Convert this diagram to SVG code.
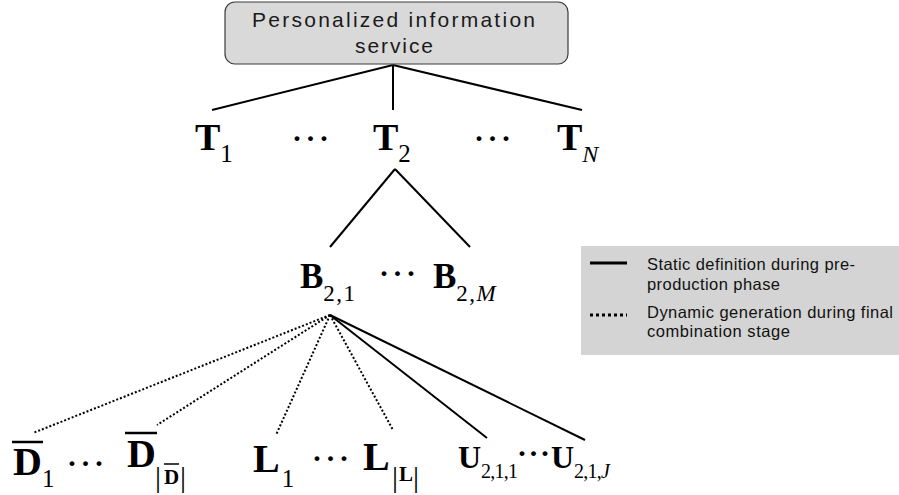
<svg xmlns="http://www.w3.org/2000/svg" width="899" height="495" viewBox="0 0 899 495">
<style>
.box{fill:#d9d9d9;stroke:#3a3a3a;stroke-width:1.2}
.lbl{font-family:"Liberation Sans",Arial,sans-serif;font-size:21px;fill:#1a1a1a}
.leg{font-family:"Liberation Sans",Arial,sans-serif;font-size:16.5px;fill:#111}
.m{font-family:"Liberation Serif","Times New Roman",serif;font-weight:bold;fill:#000}
.s{font-family:"Liberation Serif","Times New Roman",serif;font-weight:normal}
.it{font-style:italic}
.el{font-family:"Liberation Serif","Times New Roman",serif;font-size:30px;font-weight:bold;fill:#000}
.ls{letter-spacing:3.5px}
.solid{stroke:#000;stroke-width:2;fill:none}
.dot{stroke:#000;stroke-width:2;stroke-dasharray:2 2;fill:none}
.ov{stroke:#000;stroke-width:2.5}
</style>
<rect width="899" height="495" fill="#fff"/>
<g id="connectors">
<line class="solid" x1="393" y1="65" x2="212" y2="110"/>
<line class="solid" x1="393" y1="65" x2="393" y2="110"/>
<line class="solid" x1="393" y1="65" x2="582" y2="110"/>
<line class="solid" x1="395" y1="169" x2="330" y2="247"/>
<line class="solid" x1="395" y1="169" x2="470" y2="247"/>
<line class="dot" x1="330" y1="315" x2="33" y2="433"/>
<line class="dot" x1="330" y1="315" x2="157" y2="425"/>
<line class="dot" x1="330" y1="315" x2="276" y2="435"/>
<line class="dot" x1="330" y1="315" x2="393" y2="430"/>
<line class="solid" x1="330" y1="315" x2="487" y2="438"/>
<line class="solid" x1="330" y1="315" x2="585" y2="440"/>
</g>
<g id="root">
<rect class="box" x="225" y="2" width="343" height="62" rx="10"/>
<text class="lbl" x="393.5" y="27" text-anchor="middle" textLength="283">Personalized information</text>
<text class="lbl" x="394" y="53" text-anchor="middle" textLength="78">service</text>
</g>
<g id="T1"><text class="m" x="195" y="150" font-size="38">T<tspan class="s" font-size="25" dy="12">1</tspan></text></g>
<g id="T-dots1"><text class="el" x="292" y="148"><tspan class="ls">··</tspan>·</text></g>
<g id="T2"><text class="m" x="373" y="150" font-size="38">T<tspan class="s" font-size="25" dy="12">2</tspan></text></g>
<g id="T-dots2"><text class="el" x="474" y="148"><tspan class="ls">··</tspan>·</text></g>
<g id="TN"><text class="m" x="557" y="150" font-size="38">T<tspan class="s it" font-size="24" dy="12">N</tspan></text></g>
<g id="B21"><text class="m" x="300" y="288" font-size="35">B<tspan class="s" font-size="23" dy="13" letter-spacing="1.5">2,1</tspan></text></g>
<g id="B-dots"><text class="el" x="379" y="283"><tspan class="ls">··</tspan>·</text></g>
<g id="B2M"><text class="m" x="433" y="288" font-size="35">B<tspan class="s" font-size="23" dy="13" letter-spacing="1.5">2,</tspan><tspan class="s it" font-size="23">M</tspan></text></g>
<g id="D1">
<line class="ov" x1="12" y1="442" x2="43" y2="442"/>
<text class="m" x="13" y="475" font-size="40">D<tspan class="s" font-size="25" dy="12">1</tspan></text>
</g>
<g id="D-dots"><text class="el" x="67" y="473"><tspan class="ls">··</tspan>·</text></g>
<g id="DD">
<line class="ov" x1="125" y1="433" x2="157" y2="433"/>
<text class="m" x="127" y="467" font-size="40">D</text>
<text class="s" x="155" y="487" font-size="30">|</text>
<line stroke="#000" stroke-width="1.5" x1="164" y1="464" x2="179" y2="464"/>
<text class="m" x="164" y="484" font-size="21">D</text>
<text class="s" x="180" y="487" font-size="30">|</text>
</g>
<g id="L1"><text class="m" x="253" y="472" font-size="40">L<tspan class="s" font-size="25" dx="2" dy="15">1</tspan></text></g>
<g id="L-dots"><text class="el" x="312" y="468"><tspan class="ls">··</tspan>·</text></g>
<g id="LL">
<text class="m" x="363" y="470" font-size="40">L</text>
<text class="s" x="392" y="487" font-size="30">|</text>
<text class="m" x="399" y="481" font-size="21">L</text>
<text class="s" x="413" y="487" font-size="30">|</text>
</g>
<g id="U211"><text class="m" x="458" y="468" font-size="32">U<tspan class="s" font-size="20" dy="10" letter-spacing="-0.8">2,1,1</tspan></text></g>
<g id="U-dots"><text class="el" x="517" y="463" font-size="26"><tspan letter-spacing="1.5">··</tspan>·</text></g>
<g id="U21J"><text class="m" x="551" y="468" font-size="32">U<tspan class="s" font-size="20" dy="10" letter-spacing="-0.8">2,1,</tspan><tspan class="s it" font-size="20">J</tspan></text></g>
<g id="legend">
<rect x="581" y="246" width="318" height="109" fill="#d4d4d4"/>
<line x1="590" y1="263" x2="627" y2="263" stroke="#000" stroke-width="3"/>
<line x1="590" y1="315" x2="627" y2="315" stroke="#000" stroke-width="3" stroke-dasharray="3 3"/>
<text class="leg" x="647" y="270" textLength="208">Static definition during pre-</text>
<text class="leg" x="647" y="290" textLength="133">production phase</text>
<text class="leg" x="647" y="318" textLength="246">Dynamic generation during final</text>
<text class="leg" x="647" y="337" textLength="143">combination stage</text>
</g>
</svg>
